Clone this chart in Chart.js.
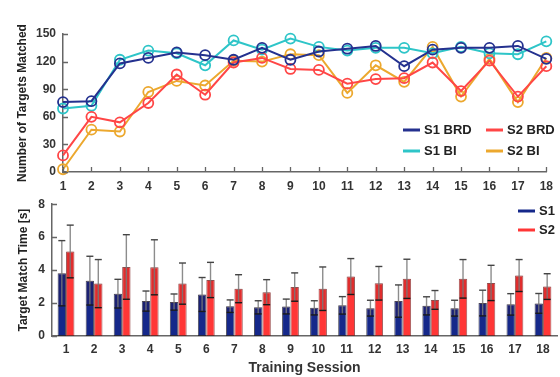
<!DOCTYPE html>
<html>
<head>
<meta charset="utf-8">
<script src="https://cdn.jsdelivr.net/npm/chart.js@4.4.0/dist/chart.umd.min.js"></script>
<style>
  html, body { margin: 0; padding: 0; background: #ffffff; }
  #wrap { position: relative; width: 560px; height: 377px; overflow: hidden; }
  #top { position: absolute; left: 0; top: 0; width: 560px; height: 195px; }
  #bot { position: absolute; left: 0; top: 190px; width: 560px; height: 187px; }
</style>
</head>
<body>
<div id="wrap">
  <div id="top"><canvas id="c1" width="560" height="195"></canvas></div>
  <div id="bot"><canvas id="c2" width="560" height="187"></canvas></div>
</div>
<script>
// ---------- data ----------
const sessions = ["1","2","3","4","5","6","7","8","9","10","11","12","13","14","15","16","17","18"];

const s1BRD = [76, 77, 118, 124, 130, 127, 122, 135, 122, 131, 134, 137, 115, 133, 135, 135, 137, 123];
const s1BI  = [69, 72, 122, 132, 129, 116, 143, 133, 145, 136, 132, 135, 135, 129, 136, 129, 128, 142];
const s2BRD = [18, 60, 54, 75, 106, 84, 119, 124, 112, 111, 96, 101, 102, 119, 88, 121, 82, 115];
const s2BI  = [3, 46, 44, 87, 99, 94, 121, 120, 128, 127, 86, 116, 98, 136, 82, 123, 76, 124];

const s1Time = [3.81, 3.36, 2.57, 2.12, 2.06, 2.52, 1.81, 1.74, 1.79, 1.71, 1.86, 1.69, 2.12, 1.83, 1.69, 2.00, 1.92, 1.98];
const s1Err  = [1.98, 1.48, 0.87, 0.61, 0.49, 1.03, 0.38, 0.40, 0.45, 0.43, 0.53, 0.48, 0.98, 0.55, 0.48, 0.78, 0.65, 0.60];
const s2Time = [5.13, 3.18, 4.19, 4.17, 3.18, 3.40, 2.87, 2.66, 2.97, 2.87, 3.61, 3.20, 3.47, 2.19, 3.47, 3.22, 3.67, 3.00];
const s2Err  = [1.60, 1.46, 1.96, 1.67, 1.25, 1.07, 0.85, 0.76, 0.86, 1.32, 1.09, 1.02, 1.19, 0.57, 1.17, 1.07, 0.97, 0.78];

const topTicks = [0, 30, 60, 90, 120, 150];
const botTicks = [0, 2, 4, 6, 8];

// ---------- styles ----------
const FONT = "Arial, 'Liberation Sans', Helvetica, sans-serif";
const TXT = '#333333';
const AXIS = '#666666';
const C_S1BRD = '#24318f';
const C_S1BI  = '#2ec5c8';
const C_S2BRD = '#ff4646';
const C_S2BI  = '#eca82e';
const C_BAR1  = '#15288a';
const C_BAR2  = '#ff3636';

// inward tick marks (MATLAB style)
const inwardTicks = {
  id: 'inwardTicks',
  afterDraw(chart, args, opts) {
    const ctx = chart.ctx;
    const ys = chart.scales.y, xs = chart.scales.x;
    ctx.save();
    ctx.strokeStyle = AXIS;
    ctx.lineWidth = 1.3;
    ctx.beginPath();
    ys.ticks.forEach((t, i) => {
      const py = Math.round(ys.getPixelForTick(i)) + 0.5;
      ctx.moveTo(ys.right, py);
      ctx.lineTo(ys.right + 5, py);
    });
    if (opts.x) {
      xs.ticks.forEach((t, i) => {
        const px = Math.round(xs.getPixelForTick(i)) + 0.5;
        ctx.moveTo(px, xs.top);
        ctx.lineTo(px, xs.top - 5);
      });
    }
    ctx.stroke();
    ctx.restore();
  }
};

// legend drawn inside plot area
const innerLegend = {
  id: 'innerLegend',
  afterDraw(chart, args, opts) {
    const ctx = chart.ctx;
    ctx.save();
    ctx.font = 'bold 13px ' + FONT;
    ctx.textBaseline = 'middle';
    ctx.textAlign = 'left';
    chart.data.datasets.forEach((ds, i) => {
      const p = opts.pos[i];
      ctx.strokeStyle = ds.borderColor === undefined || ds.type === 'bar' ? ds.backgroundColor : ds.borderColor;
      if (ds.legendColor) ctx.strokeStyle = ds.legendColor;
      ctx.lineWidth = 3;
      ctx.beginPath();
      ctx.moveTo(p[0], p[1]);
      ctx.lineTo(p[0] + 17, p[1]);
      ctx.stroke();
      ctx.fillStyle = '#222222';
      ctx.fillText(ds.label, p[0] + 21, p[1] + 0.5);
    });
    ctx.restore();
  }
};

// error bars for bar chart
const errorBars = {
  id: 'errorBars',
  afterDatasetsDraw(chart) {
    const ctx = chart.ctx;
    const ys = chart.scales.y;
    ctx.save();
    chart.data.datasets.forEach((ds, di) => {
      const meta = chart.getDatasetMeta(di);
      meta.data.forEach((bar, i) => {
        const v = ds.data[i], e = ds.errors[i];
        const yTop = ys.getPixelForValue(v + e);
        const yBot = ys.getPixelForValue(v - e);
        const yVal = ys.getPixelForValue(v);
        const x = bar.x;
        const w = bar.width;
        // darker shade between lower error and bar top
        ctx.fillStyle = 'rgba(60,0,0,0.16)';
        ctx.fillRect(x - w / 2 + 1, yVal, w - 2, yBot - yVal);
        // vertical line
        ctx.strokeStyle = 'rgba(120,120,120,0.85)';
        ctx.lineWidth = 1.4;
        ctx.beginPath();
        ctx.moveTo(x, yTop);
        ctx.lineTo(x, yBot);
        ctx.stroke();
        // caps
        ctx.strokeStyle = '#444444';
        ctx.lineWidth = 1.4;
        ctx.beginPath();
        ctx.moveTo(x - 3.5, yTop);
        ctx.lineTo(x + 3.5, yTop);
        ctx.stroke();
        ctx.strokeStyle = '#1a1a1a';
        ctx.beginPath();
        ctx.moveTo(x - 3.5, yBot);
        ctx.lineTo(x + 3.5, yBot);
        ctx.stroke();
      });
    });
    ctx.restore();
  }
};

function lineDs(label, data, color) {
  return {
    label, data,
    borderColor: color,
    backgroundColor: 'rgba(0,0,0,0)',
    borderWidth: 2,
    pointRadius: 5,
    pointBorderWidth: 1.8,
    pointBackgroundColor: 'rgba(0,0,0,0)',
    pointBorderColor: color,
    tension: 0,
    clip: false
  };
}

// ---------- top chart ----------
new Chart(document.getElementById('c1'), {
  type: 'line',
  data: {
    labels: sessions,
    datasets: [
      lineDs('S1 BRD', s1BRD, C_S1BRD),
      lineDs('S2 BRD', s2BRD, C_S2BRD),
      lineDs('S1 BI', s1BI, C_S1BI),
      lineDs('S2 BI', s2BI, C_S2BI)
    ]
  },
  options: {
    responsive: false,
    animation: false,
    layout: { padding: { left: 0, right: 13, top: 34, bottom: 0 } },
    plugins: {
      legend: { display: false },
      tooltip: { enabled: false },
      innerLegend: { pos: [[403, 130], [486, 130], [403, 151], [486, 151]] },
      inwardTicks: { x: true }
    },
    scales: {
      x: {
        offset: false,
        grid: { display: false, drawTicks: false },
        border: { display: true, color: AXIS, width: 1.5 },
        ticks: { color: TXT, font: { family: FONT, size: 12, weight: 'bold' }, padding: 7, maxRotation: 0, autoSkip: false },
        afterFit(s) { s.height = 23; }
      },
      y: {
        min: 0, max: 150,
        afterBuildTicks(s) { s.ticks = topTicks.map(v => ({ value: v })); },
        grid: { display: false, drawTicks: false },
        border: { display: true, color: AXIS, width: 1.5 },
        ticks: { color: TXT, font: { family: FONT, size: 12, weight: 'bold' }, padding: 7 },
        title: { display: true, text: 'Number of Targets Matched', color: '#222222',
                 font: { family: FONT, size: 12, weight: 'bold' }, padding: { top: 15, bottom: 0 } },
        afterFit(s) { s.width = 63; }
      }
    }
  },
  plugins: [inwardTicks, innerLegend]
});

// ---------- bottom chart ----------
new Chart(document.getElementById('c2'), {
  type: 'bar',
  data: {
    labels: sessions,
    datasets: [
      { label: 'S1', data: s1Time, errors: s1Err, backgroundColor: C_BAR1, legendColor: C_BAR1,
        borderColor: 'rgba(20,20,40,0.75)', borderWidth: 1, borderSkipped: false },
      { label: 'S2', data: s2Time, errors: s2Err, backgroundColor: C_BAR2, legendColor: C_BAR2,
        borderColor: 'rgba(120,20,20,0.7)', borderWidth: 1, borderSkipped: false }
    ]
  },
  options: {
    responsive: false,
    animation: false,
    datasets: { bar: { categoryPercentage: 0.6, barPercentage: 1.0 } },
    layout: { padding: { left: 0, right: 3, top: 8, bottom: 0 } },
    plugins: {
      legend: { display: false },
      tooltip: { enabled: false },
      innerLegend: { pos: [[518, 21], [518, 40]] },
      inwardTicks: { x: false }
    },
    scales: {
      x: {
        grid: { display: false, drawTicks: false },
        border: { display: true, color: AXIS, width: 1.5 },
        ticks: { color: TXT, font: { family: FONT, size: 12, weight: 'bold' }, padding: 6, maxRotation: 0, autoSkip: false },
        title: { display: true, text: 'Training Session', color: '#333333',
                 font: { family: FONT, size: 14, weight: 'bold' }, padding: { top: 0, bottom: 0 } },
        afterFit(s) { s.height = 41; }
      },
      y: {
        min: 0, max: 8,
        afterBuildTicks(s) { s.ticks = botTicks.map(v => ({ value: v })); },
        grid: { display: false, drawTicks: false },
        border: { display: true, color: AXIS, width: 1.5 },
        ticks: { color: TXT, font: { family: FONT, size: 12, weight: 'bold' }, padding: 7 },
        title: { display: true, text: 'Target Match Time [s]', color: '#222222',
                 font: { family: FONT, size: 12, weight: 'bold' }, padding: { top: 16, bottom: 0 } },
        afterFit(s) { s.width = 52; }
      }
    }
  },
  plugins: [errorBars, inwardTicks, innerLegend]
});
</script>
</body>
</html>
